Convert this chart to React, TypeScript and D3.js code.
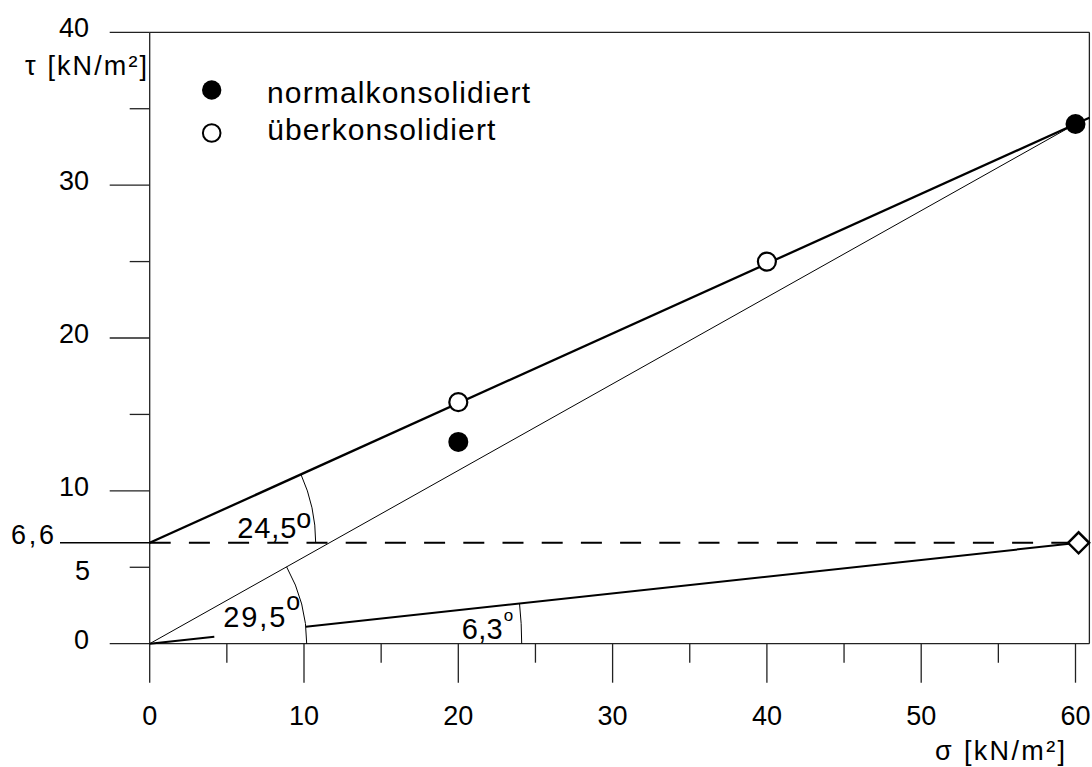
import React from "react";
import * as d3 from "d3";

// Axis ticks
const xMajorTicks = [0, 10, 20, 30, 40, 50, 60];
const xMinorTicks = [5, 15, 25, 35, 45, 55];
const yMajorTicks = [0, 10, 20, 30, 40];
const yMinorTicks = [5, 15, 25, 35];
const yMidLabel = 5;
const cohesionValue = 6.6;
const cohesionText = "6,6";

// Shear test results
const normalSigma = [20, 60];
const normalTau = [13.2, 34];
const overSigma = [20, 40];
const overTau = [15.8, 25];
const residualSigma = 60.2;
const residualTau = 6.6;

const seriesNames = ["normalkonsolidiert", "überkonsolidiert"];
const angleTexts = ["24,5", "29,5", "6,3"];
const yAxisTitle = "τ [kN/m²]";
const xAxisTitle = "σ [kN/m²]";

const FONT = "'Liberation Sans', Arial, Helvetica, sans-serif";
const W = 1092;
const H = 767;
const FRAME_X = 60.9;
const FRAME_Y = 40;

const x = d3.scaleLinear().domain([0, 60]).range([149.7, 1075.5]);
const y = d3.scaleLinear().domain([0, 40]).range([643.7, 32.3]);

const AXIS = "#222";

function arcPath(cx: number, cy: number, r: number, a: number) {
  const p = d3.path();
  p.arc(cx, cy, r, 0, a, a < 0);
  return p.toString();
}

export default function App() {
  const x0 = x(0);
  const y0 = y(0);
  const xR = x(FRAME_X);
  const yT = y(FRAME_Y);

  // Envelopes
  const nEnd = normalSigma.length - 1;
  const peakX = normalSigma[nEnd];
  const peakY = normalTau[nEnd];
  const slopeC = (peakY - cohesionValue) / peakX;
  const cohesionLine = d3.line<[number, number]>()
    .x((d) => x(d[0]))
    .y((d) => y(d[1]))([
    [0, cohesionValue],
    [FRAME_X, cohesionValue + slopeC * FRAME_X],
  ]);
  const originLine = d3.line<[number, number]>()
    .x((d) => x(d[0]))
    .y((d) => y(d[1]))([
    [0, 0],
    [peakX, peakY],
  ]);

  // Pixel-space angles for arcs
  const angC = Math.atan2(y(peakY) - y(cohesionValue), x(peakX) - x(0));
  const angO = Math.atan2(y(peakY) - y0, x(peakX) - x0);
  const angR = Math.atan2(y(residualTau) - y0, x(residualSigma) - x0);

  const rC = 166;
  const rO = 157;
  const rR = 372;
  const gapStart = 65;

  const rx = x(residualSigma);
  const ry = y(residualTau);
  const ux = Math.cos(angR);
  const uy = Math.sin(angR);

  const d = 10.5;

  return (
    <svg
      width={W}
      height={H}
      style={{ position: "absolute", left: 0, top: 0, background: "#fff" }}
      fontFamily={FONT}
    >
      <rect x={0} y={0} width={W} height={H} fill="#fff" />

      {/* frame */}
      <line x1={x0} y1={yT} x2={xR} y2={yT} stroke={AXIS} strokeWidth={1.3} />
      <line x1={xR} y1={yT} x2={xR} y2={y0} stroke={AXIS} strokeWidth={1.3} />
      <line x1={x0} y1={yT} x2={x0} y2={y0} stroke={AXIS} strokeWidth={1.3} />
      <line x1={x0} y1={y0} x2={xR} y2={y0} stroke={AXIS} strokeWidth={1.3} />

      {/* y ticks */}
      {yMajorTicks.map((v) => (
        <line key={"ym" + v} x1={x0 - 40} x2={x0} y1={y(v)} y2={y(v)} stroke={AXIS} strokeWidth={1.3} />
      ))}
      {yMinorTicks.map((v) => (
        <line key={"yn" + v} x1={x0 - 20} x2={x0} y1={y(v)} y2={y(v)} stroke={AXIS} strokeWidth={1.3} />
      ))}
      {yMajorTicks.map((v) => (
        <text key={"yl" + v} x={89} y={y(v) + 5} fontSize={27} textAnchor="end" fill="#000">
          {String(v)}
        </text>
      ))}
      <text x={90} y={y(yMidLabel) + 12.7} fontSize={27} textAnchor="end" fill="#000">
        {String(yMidLabel)}
      </text>
      <text x={11} y={y(cohesionValue) + 1.5} fontSize={27} textLength={43} lengthAdjust="spacing" fill="#000">
        {cohesionText}
      </text>
      <line x1={60} x2={x0} y1={y(cohesionValue)} y2={y(cohesionValue)} stroke="#000" strokeWidth={1.6} />

      {/* x ticks */}
      {xMajorTicks.map((v) => (
        <line key={"xm" + v} x1={x(v)} x2={x(v)} y1={y0} y2={y0 + 39} stroke={AXIS} strokeWidth={1.3} />
      ))}
      {xMinorTicks.map((v) => (
        <line key={"xn" + v} x1={x(v)} x2={x(v)} y1={y0} y2={y0 + 19} stroke={AXIS} strokeWidth={1.3} />
      ))}
      {xMajorTicks.map((v) => (
        <text key={"xl" + v} x={x(v)} y={725} fontSize={27} textAnchor="middle" fill="#000">
          {String(v)}
        </text>
      ))}

      {/* axis titles */}
      <text x={25} y={75} fontSize={27} textLength={122} lengthAdjust="spacing" fill="#000">
        {yAxisTitle}
      </text>
      <text x={935} y={760} fontSize={27} textLength={130} lengthAdjust="spacing" fill="#000">
        {xAxisTitle}
      </text>

      {/* cohesion level, dashed */}
      <line
        x1={x0}
        x2={rx}
        y1={y(cohesionValue)}
        y2={y(cohesionValue)}
        stroke="#000"
        strokeWidth={2}
        strokeDasharray="21 18.2"
      />

      {/* envelopes */}
      <path d={cohesionLine ?? ""} stroke="#000" strokeWidth={2.3} fill="none" />
      <path d={originLine ?? ""} stroke="#000" strokeWidth={1} fill="none" />
      <line x1={x0} y1={y0} x2={x0 + ux * gapStart} y2={y0 + uy * gapStart} stroke="#000" strokeWidth={2} />
      <line x1={x0 + ux * rO} y1={y0 + uy * rO} x2={rx} y2={ry} stroke="#000" strokeWidth={2} />

      {/* angle arcs */}
      <path d={arcPath(x0, y(cohesionValue), rC, angC)} stroke="#000" strokeWidth={1} fill="none" />
      <path d={arcPath(x0, y0, rO, angO)} stroke="#000" strokeWidth={1} fill="none" />
      <path d={arcPath(x0, y0, rR, angR)} stroke="#000" strokeWidth={1} fill="none" />

      {/* angle labels */}
      <text x={x(5.68)} y={y(6.93)} fontSize={29} textLength={59} lengthAdjust="spacing" fill="#000">
        {angleTexts[0]}
      </text>
      <text x={x(5.68) + 59} y={y(6.93) - 10} fontSize={27} fill="#000">o</text>
      <text x={x(4.77)} y={y(1.11)} fontSize={29} textLength={62} lengthAdjust="spacing" fill="#000">
        {angleTexts[1]}
      </text>
      <text x={x(4.77) + 63} y={y(1.11) - 16.5} fontSize={25} fill="#000">o</text>
      <text x={x(20.22)} y={y(0.29)} fontSize={29} textLength={41} lengthAdjust="spacing" fill="#000">
        {angleTexts[2]}
      </text>
      <text x={x(20.22) + 42} y={y(0.29) - 18.5} fontSize={17} fill="#000">o</text>

      {/* residual strength marker */}
      <path
        d={`M${rx - d},${ry}L${rx},${ry - d}L${rx + d},${ry}L${rx},${ry + d}Z`}
        fill="#fff"
        stroke="#000"
        strokeWidth={2.5}
        strokeLinejoin="miter"
      />

      {/* measured points */}
      {overSigma.map((s, i) => (
        <circle key={"o" + i} cx={x(s)} cy={y(overTau[i])} r={9} fill="#fff" stroke="#000" strokeWidth={2.2} />
      ))}
      {normalSigma.map((s, i) => (
        <circle key={"n" + i} cx={x(s)} cy={y(normalTau[i])} r={10} fill="#000" />
      ))}

      {/* legend */}
      <circle cx={211.7} cy={90} r={9.7} fill="#000" />
      <text x={267} y={103} fontSize={30} textLength={263} lengthAdjust="spacing" fill="#000">
        {seriesNames[0]}
      </text>
      <circle cx={211.7} cy={133} r={8.8} fill="#fff" stroke="#000" strokeWidth={2} />
      <text x={267.3} y={139.5} fontSize={30} textLength={228} lengthAdjust="spacing" fill="#000">
        {seriesNames[1]}
      </text>
    </svg>
  );
}
